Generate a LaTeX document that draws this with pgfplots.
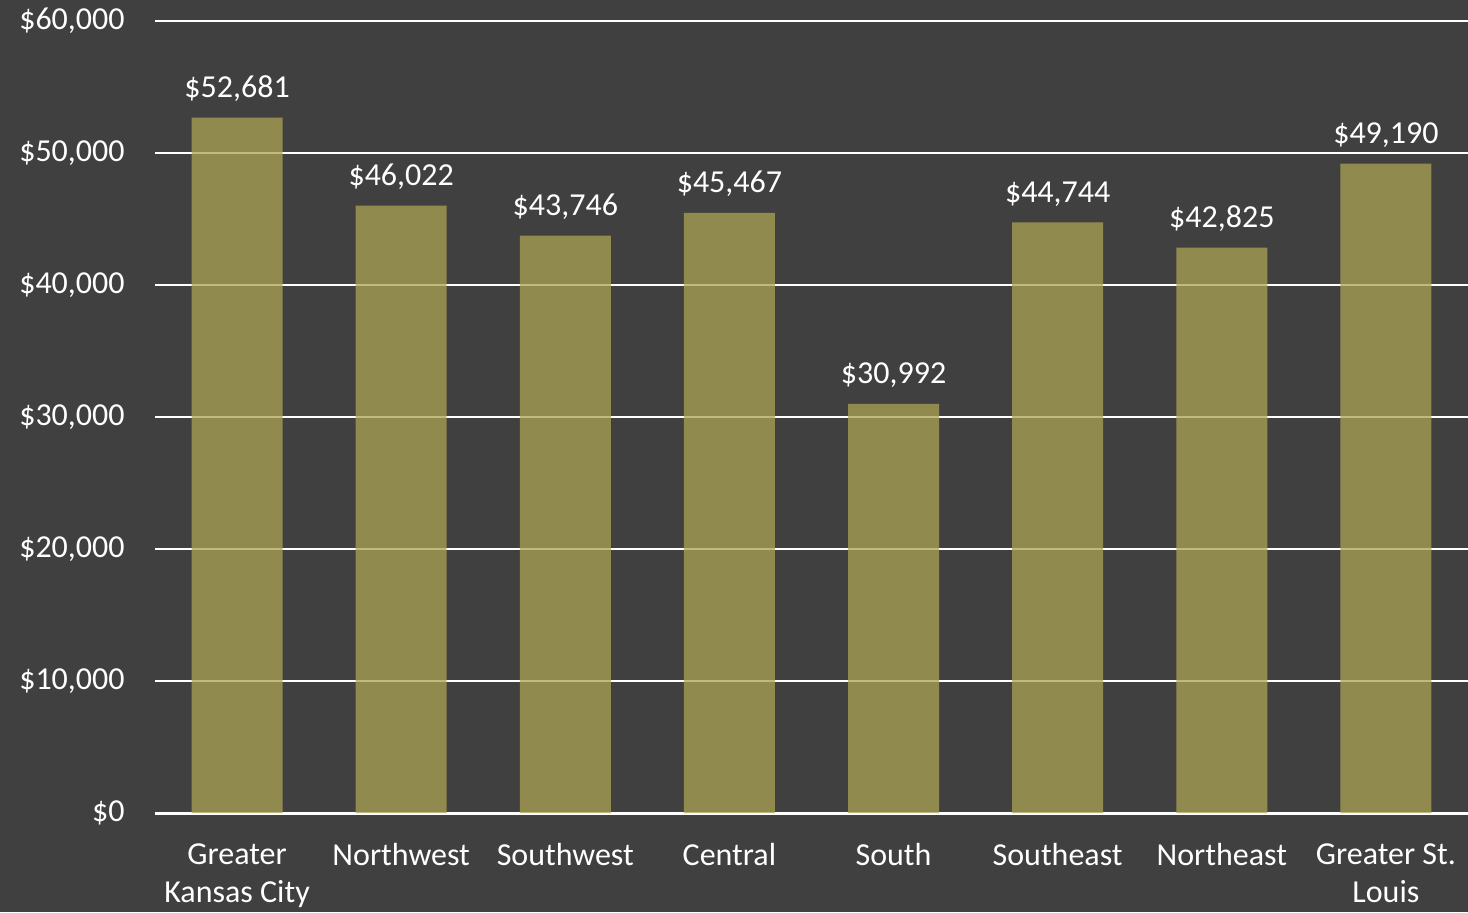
\documentclass[border=0pt]{standalone}
\usepackage{pgfplots}
\pgfplotsset{compat=1.18}
\usepackage{fontspec}
\setmainfont{Carlito}
\definecolor{bg}{RGB}{64,64,64}
\definecolor{barc}{RGB}{171,163,85}
\begin{document}
\fontsize{16}{19}\selectfont
\begin{tikzpicture}
\fill[bg] (-77.5pt,-49.5pt) rectangle (656.5pt,406.5pt);
\useasboundingbox (-77.5pt,-49.5pt) rectangle (656.5pt,406.5pt);
\begin{axis}[
  at={(0,0)}, anchor=south west,
  scale only axis,
  width=656.5pt, height=396pt,
  xmin=-0.5, xmax=7.5,
  ymin=0, ymax=60000,
  axis x line*=bottom,
  axis y line*=left,
  x axis line style={white, line width=1.5pt, -},
  y axis line style={draw=none},
  major grid style={white, line width=1pt},
  ymajorgrids,
  ytick={0,10000,20000,30000,40000,50000,60000},
  yticklabels={{\$0},{\$10,000},{\$20,000},{\$30,000},{\$40,000},{\$50,000},{\$60,000}},
  xtick=data,
  xticklabels={{Greater\\Kansas City},Northwest,Southwest,Central,South,Southeast,Northeast,{Greater St.\\Louis}},
  major tick length=0pt,
  tick style={draw=none},
  xticklabel style={align=center, inner sep=0pt, anchor=north, yshift=-15pt, text=white, font=\fontsize{16}{19}\selectfont},
  yticklabel style={inner sep=0pt, anchor=east, xshift=-15pt, text=white, font=\fontsize{16}{19}\selectfont},
  ybar, bar width=0.554,
  nodes near coords,
  point meta=explicit symbolic,
  every node near coord/.append style={anchor=base, inner sep=0pt, yshift=10pt, text=white, font=\fontsize{16}{19}\selectfont},
  clip=false,
]
\addplot[fill=barc, fill opacity=0.75, draw=none, text opacity=1] coordinates {
  (0,52681) [\$52,681]
  (1,46022) [\$46,022]
  (2,43746) [\$43,746]
  (3,45467) [\$45,467]
  (4,30992) [\$30,992]
  (5,44744) [\$44,744]
  (6,42825) [\$42,825]
  (7,49190) [\$49,190]
};
\end{axis}
\end{tikzpicture}
\end{document}
